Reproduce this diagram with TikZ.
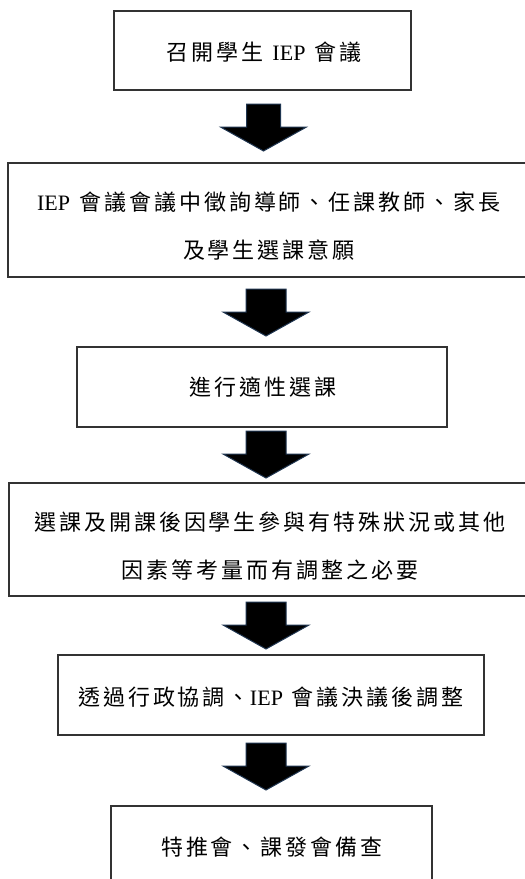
\documentclass[tikz,border=0pt]{standalone}
\usepackage{fontspec}
\setmainfont{Liberation Serif}
\newfontfamily\cjk[LetterSpace=13.6]{Noto Sans CJK TC}
\definecolor{boxgray}{HTML}{333333}
\definecolor{arrowedge}{HTML}{1F3550}
\newcommand\ipsp{\hspace{9pt}}
\begin{document}
\begin{tikzpicture}[x=1pt,y=-1pt,
  box/.style={draw=boxgray, line width=1.6pt, inner sep=0pt},
  txt/.style={align=center, inner sep=0pt, font=\fontsize{22}{48}\selectfont},
  arrowfill/.style={fill=black, draw=arrowedge, line width=1pt, line join=miter},
  pics/barrow/.style={code={\draw[arrowfill] (-#1,0) -- (#1,0) -- (#1,23) -- (43,23) -- (0,47) -- (-43,23) -- (-#1,23) -- cycle;}}]
\useasboundingbox (0,0) rectangle (525,879);
\clip (0,0) rectangle (525,879);
\fill[white] (0,0) rectangle (525,879);

\node[box, minimum width=297pt, minimum height=79pt] (b1) at (262.5,50.5) {};
\node[txt] (t1) at (264,52) {{\cjk 召開學生}\ipsp IEP\ipsp{\cjk 會議}};
\node[box, minimum width=522pt, minimum height=114pt] (b2) at (269,220) {};
\node[txt] (t2) at (269,226) {IEP\ipsp{\cjk 會議會議中徵詢導師、任課教師、家長}\\{\cjk 及學生選課意願}};
\node[box, minimum width=370pt, minimum height=80pt] (b3) at (262,387) {};
\node[txt] (t3) at (263,387.5) {{\cjk 進行適性選課}};
\node[box, minimum width=521pt, minimum height=113pt] (b4) at (269.5,539.5) {};
\node[txt] (t4) at (270,546.5) {{\cjk 選課及開課後因學生參與有特殊狀況或其他}\\{\cjk 因素等考量而有調整之必要}};
\node[box, minimum width=426pt, minimum height=80pt] (b5) at (271,695) {};
\node[txt] (t5) at (271,697) {{\cjk 透過行政協調、}IEP\ipsp{\cjk 會議決議後調整}};
\node[box, minimum width=321pt, minimum height=80pt] (b6) at (271.5,846) {};
\node[txt] (t6) at (272,847) {{\cjk 特推會、課發會備查}};

\coordinate (a1) at (263.5,104);
\coordinate (a2) at (266,289);
\coordinate (a3) at (266,431);
\coordinate (a4) at (266,602);
\coordinate (a5) at (266,743);
\pic at (a1) {barrow=17};
\pic at (a2) {barrow=20};
\pic at (a3) {barrow=20};
\pic at (a4) {barrow=20};
\pic at (a5) {barrow=20};
\end{tikzpicture}
\end{document}
